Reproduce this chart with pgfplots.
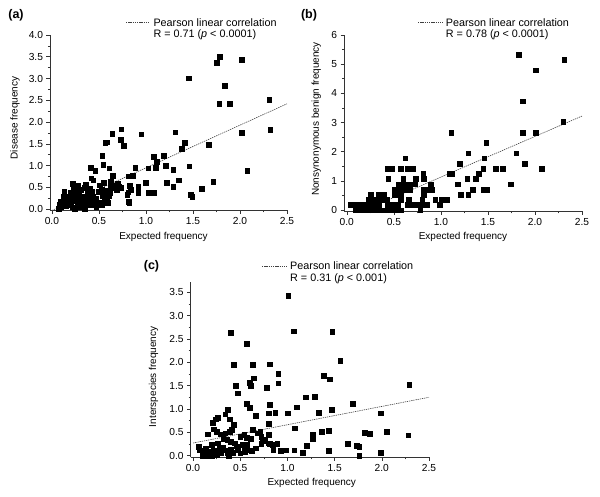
\documentclass[border=0pt]{standalone}
\usepackage{fontspec}
\setmainfont{Liberation Sans}
\usepackage{pgfplots}
\pgfplotsset{compat=1.18}
\tikzset{fitline/.style={black!75, line width=0.6pt, dash pattern=on 1.3pt off 0.9pt}}
\pgfplotsset{
  panel/.style={
    scale only axis,
    axis lines*=left,
    axis line style={-, black!80, line width=0.6pt},
    tick align=outside,
    major tick length=3.5pt,
    minor tick length=2pt,
    tick style={black!80, line width=0.6pt},
    minor x tick num=1, minor y tick num=1,
    xtick={0,0.5,1,1.5,2,2.5},
    xmax=2.5,
    tick label style={font=\fontsize{10.2}{12}\selectfont},
    /pgf/number format/assume math mode=true,
    xticklabel style={/pgf/number format/.cd, fixed, fixed zerofill, precision=1},
    label style={font=\fontsize{10.8}{12}\selectfont},
    clip=false,
  },
  pts/.style={only marks, mark=square*, mark size=2.35pt, mark options={draw=black, fill=black, line width=0.3pt}},
  fit/.style={no marks, fitline},
}
\begin{document}
\begin{tikzpicture}
% ---------------- (a) ----------------
\begin{axis}[panel,
  at={(50pt,286.5pt)}, anchor=south west,
  width=237pt, height=175.5pt,
  xmin=-0.02, ymin=-0.03, ymax=4,
  ytick={0,0.5,1,1.5,2,2.5,3,3.5,4},
  yticklabel style={/pgf/number format/.cd, fixed, fixed zerofill, precision=1},
  xlabel={Expected frequency}, ylabel={Disease frequency},
  every axis x label/.style={at={(axis description cs:0.479,-0.149)}, anchor=center},
  every axis y label/.style={at={(axis description cs:-0.148,0.527)}, rotate=90, anchor=center},
]
\addplot[fit] coordinates {(0,-0.03) (2.5,2.42)};
\addplot[pts] coordinates {
(1.786,3.50) (1.75,3.37) (2.016,3.43) (1.457,3.01) (1.84,2.83) (1.78,2.43) (1.89,2.43)
(2.31,2.52) (2.32,1.82) (2.02,1.75) (2.075,0.89) (1.715,0.64) (1.67,1.48) (1.59,0.47)
(1.475,0.34) (1.49,0.28) (1.46,0.99) (1.414,1.52) (1.38,1.39) (1.31,1.77) (1.35,0.67)
(1.29,0.91) (1.29,0.52) (1.21,1.00) (1.185,1.23) (1.22,0.61) (1.114,1.09) (1.08,1.21)
(1.10,0.96) (1.08,0.38) (1.025,0.94) (1.025,0.38) (1.0,0.61) (0.95,1.72) (0.884,0.96)
(0.916,0.51) (0.916,0.38) (0.86,0.77) (0.83,0.54) (0.735,1.84) (0.73,1.59) (0.76,1.46)
(0.64,1.74) (0.587,1.54) (0.566,1.53) (0.534,1.23) (0.545,1.02) (0.608,0.94) (0.41,0.95)
(0.46,0.89) (0.418,0.71) (0.44,0.67) (0.643,0.77) (0.626,0.63) (0.55,0.61) (0.81,0.76)
(0.81,0.39) (0.817,0.18) (0.82,0.145) (0.80,0.33) (0.84,0.45)
(0.66,0.55) (0.68,0.50) (0.70,0.60) (0.71,0.52) (0.73,0.50) (0.69,0.45) (0.65,0.48)
(0.62,0.52) (0.62,0.38) (0.60,0.30) (0.57,0.42) (0.56,0.35) (0.58,0.22) (0.56,0.18)
(0.59,0.15) (0.53,0.45) (0.50,0.40) (0.51,0.55) (0.47,0.25) (0.45,0.18) (0.43,0.30)
(0.42,0.40) (0.40,0.47) (0.38,0.35) (0.40,0.25) (0.37,0.18) (0.42,0.15) (0.44,0.10)
(0.35,0.50) (0.36,0.56) (0.34,0.30) (0.32,0.25) (0.30,0.30) (0.31,0.15) (0.29,0.05)
(0.33,0.08) (0.35,0.02) (0.27,0.12) (0.25,0.20) (0.26,0.35) (0.23,0.45) (0.24,0.55)
(0.22,0.58) (0.25,0.50) (0.27,0.48) (0.28,0.55) (0.20,0.38) (0.21,0.30) (0.19,0.25)
(0.18,0.18) (0.17,0.10) (0.22,0.05) (0.24,0.02) (0.20,0.12) (0.15,0.08) (0.14,0.20)
(0.13,0.40) (0.12,0.15) (0.11,0.12) (0.10,0.05) (0.09,0.18) (0.08,0.10) (0.07,0.02)
(0.12,0.28) (0.16,0.30) (0.29,0.38) (0.31,0.45) (0.26,0.25) (0.38,0.10) (0.47,0.05)
(0.50,0.15) (0.53,0.10) (0.54,0.30)
};
\end{axis}
% ---------------- (b) ----------------
\begin{axis}[panel,
  at={(344pt,285.5pt)}, anchor=south west,
  width=238pt, height=176.5pt,
  xmin=-0.03, ymin=-0.05, ymax=6,
  ytick={0,1,2,3,4,5,6},
  xlabel={Expected frequency}, ylabel={Nonsynonymous benign frequency},
  every axis x label/.style={at={(axis description cs:0.50,-0.143)}, anchor=center},
  every axis y label/.style={at={(axis description cs:-0.116,0.524)}, rotate=90, anchor=center},
]
\addplot[fit] coordinates {(0.19,0) (2.5,3.22)};
\addplot[pts] coordinates {
(0.09,0) (0.12,0) (0.15,0) (0.18,0) (0.21,0) (0.24,0) (0.27,0) (0.30,0) (0.33,0) (0.36,0)
(0.39,0) (0.42,0) (0.45,0) (0.48,0) (0.51,0) (0.57,0) (0.78,0)
(0.04,0.178) (0.07,0.178) (0.10,0.178) (0.13,0.178) (0.16,0.178) (0.22,0.178) (0.25,0.178)
(0.28,0.178) (0.31,0.178) (0.34,0.178) (0.43,0.178) (0.47,0.178) (0.50,0.178) (0.54,0.178)
(0.65,0.178) (0.69,0.178) (0.75,0.178) (0.79,0.178) (0.85,0.178) (0.99,0.178)
(0.23,0.355) (0.27,0.355) (0.31,0.355) (0.37,0.355) (0.40,0.355) (0.43,0.355) (0.57,0.355)
(0.66,0.355) (0.80,0.355) (0.94,0.355) (1.01,0.355) (1.06,0.355)
(0.25,0.533) (0.34,0.533) (0.39,0.533) (0.51,0.533) (0.55,0.533) (0.57,0.533) (0.82,0.533)
(1.21,0.533) (1.29,0.533)
(0.51,0.71) (0.54,0.71) (0.57,0.71) (0.60,0.71) (0.63,0.71) (0.67,0.71) (0.82,0.71)
(0.87,0.71) (0.90,0.71) (1.34,0.71) (1.45,0.71) (1.49,0.71)
(0.55,0.888) (0.59,0.888) (0.62,0.888) (0.66,0.888) (0.72,0.888) (0.89,0.888) (1.18,0.888) (1.74,0.888)
(0.44,1.066) (0.60,1.066) (0.73,1.066) (0.82,1.066) (1.28,1.066) (1.37,1.066)
(0.81,1.243) (1.09,1.243) (1.12,1.243) (1.40,1.243)
(0.43,1.421) (0.48,1.421) (0.57,1.421) (0.64,1.421) (0.70,1.421) (1.45,1.421) (1.58,1.421)
(1.66,1.421) (2.07,1.421)
(1.20,1.598) (1.89,1.598)
(0.62,1.776) (1.46,1.776)
(1.29,1.954) (1.80,1.954)
(1.48,2.31)
(1.11,2.664) (1.87,2.664) (2.01,2.664)
(2.30,3.02) (1.87,3.73) (2.01,4.80) (2.31,5.15) (1.83,5.33)
};
\end{axis}
% ---------------- (c) ----------------
\begin{axis}[panel,
  at={(190.7pt,39.5pt)}, anchor=south west,
  width=238.3pt, height=175.5pt,
  xmin=-0.025, ymin=-0.04, ymax=3.72,
  ytick={0,0.5,1,1.5,2,2.5,3,3.5},
  yticklabel style={/pgf/number format/.cd, fixed, fixed zerofill, precision=1},
  xlabel={Expected frequency}, ylabel={Interspecies frequency},
  every axis x label/.style={at={(axis description cs:0.508,-0.147)}, anchor=center},
  every axis y label/.style={at={(axis description cs:-0.156,0.46)}, rotate=90, anchor=center},
]
\addplot[fit] coordinates {(0,0.27) (2.5,1.25)};
\addplot[pts] coordinates {
(1.007,3.43) (0.40,2.63) (0.57,2.40) (1.063,2.67) (1.475,2.66) (1.56,2.03) (0.43,1.95)
(0.63,1.95) (0.81,1.96) (0.90,1.75) (0.64,1.66) (0.60,1.57) (0.61,1.50) (0.45,1.50)
(0.47,1.34) (0.78,1.46) (0.90,1.55) (1.387,1.72) (1.45,1.64) (2.29,1.52) (1.19,1.25)
(1.29,1.26) (0.57,1.11) (0.60,1.03) (0.81,1.09) (1.10,1.04) (1.0,0.91) (0.87,0.92)
(0.80,0.91) (1.33,0.92) (1.47,0.99) (1.69,1.11) (1.99,0.91) (0.66,0.86) (0.37,0.99)
(0.34,0.89) (0.39,0.78) (0.43,0.67) (0.21,0.70) (0.24,0.78) (0.26,0.82) (0.80,0.69)
(1.08,0.59) (0.63,0.56) (0.68,0.48) (0.71,0.51) (0.80,0.45) (1.27,0.46) (1.27,0.37)
(1.36,0.51) (1.44,0.53) (1.82,0.49) (1.87,0.47) (2.05,0.51) (2.28,0.44) (1.64,0.25)
(1.73,0.21) (1.76,0.19) (1.76,0.0) (1.99,0.07) (1.20,0.21) (1.16,0.07) (1.07,0.12)
(0.98,0.12) (0.93,0.10) (0.85,0.12) (0.89,0.25) (0.81,0.25) (0.74,0.32) (0.66,0.16)
(1.44,0.11) (0.155,0.46) (0.22,0.57) (0.25,0.51) (0.29,0.46) (0.34,0.48) (0.39,0.51)
(0.41,0.55) (0.32,0.37) (0.36,0.34) (0.40,0.30) (0.44,0.27) (0.50,0.41) (0.54,0.45)
(0.57,0.39) (0.61,0.37) (0.72,0.41) (0.76,0.34) (0.80,0.27) (0.84,0.23) (0.59,0.12)
(0.54,0.14) (0.57,0.23) (0.52,0.23) (0.46,0.20) (0.47,0.12) (0.40,0.13) (0.42,0.06)
(0.32,0.17) (0.34,0.12) (0.36,0.05) (0.26,0.27) (0.28,0.16) (0.29,0.07) (0.20,0.23)
(0.22,0.12) (0.24,0.05) (0.13,0.16) (0.155,0.09) (0.18,0.04) (0.11,0.06) (0.07,0.12)
(0.06,0.19) (0.10,0.0) (0.15,0.0) (0.20,0.0) (0.25,0.02) (0.38,0.0) (0.50,0.05)
(0.55,0.08) (0.62,0.10) (0.72,0.25)
};
\end{axis}
% ---------------- labels and legends ----------------
\begin{scope}[every node/.style={font=\fontsize{10.8}{13}\selectfont, inner sep=0pt}]
\node[font=\bfseries\fontsize{12.5}{14}\selectfont, inner sep=0pt] at (16pt,482pt) {(a)};
\node[font=\bfseries\fontsize{12.5}{14}\selectfont, inner sep=0pt] at (309pt,482pt) {(b)};
\node[font=\bfseries\fontsize{12.5}{14}\selectfont, inner sep=0pt] at (151.5pt,231pt) {(c)};
\draw[fitline] (126pt,474.3pt) -- (150pt,474.3pt);
\node[anchor=west] at (153.3pt,474.3pt) {Pearson linear correlation};
\node[anchor=west] at (153.3pt,462pt) {R = 0.71 (\textit{p} < 0.0001)};
\draw[fitline] (418pt,474.3pt) -- (443pt,474.3pt);
\node[anchor=west] at (445.7pt,474.3pt) {Pearson linear correlation};
\node[anchor=west] at (445.7pt,462pt) {R = 0.78 (\textit{p} < 0.0001)};
\draw[fitline] (262pt,231pt) -- (287pt,231pt);
\node[anchor=west] at (290pt,231pt) {Pearson linear correlation};
\node[anchor=west] at (290pt,218.5pt) {R = 0.31 (\textit{p} < 0.001)};
\end{scope}
\pgfresetboundingbox
\useasboundingbox (0pt,0pt) rectangle (600pt,497pt);
\end{tikzpicture}
\end{document}
